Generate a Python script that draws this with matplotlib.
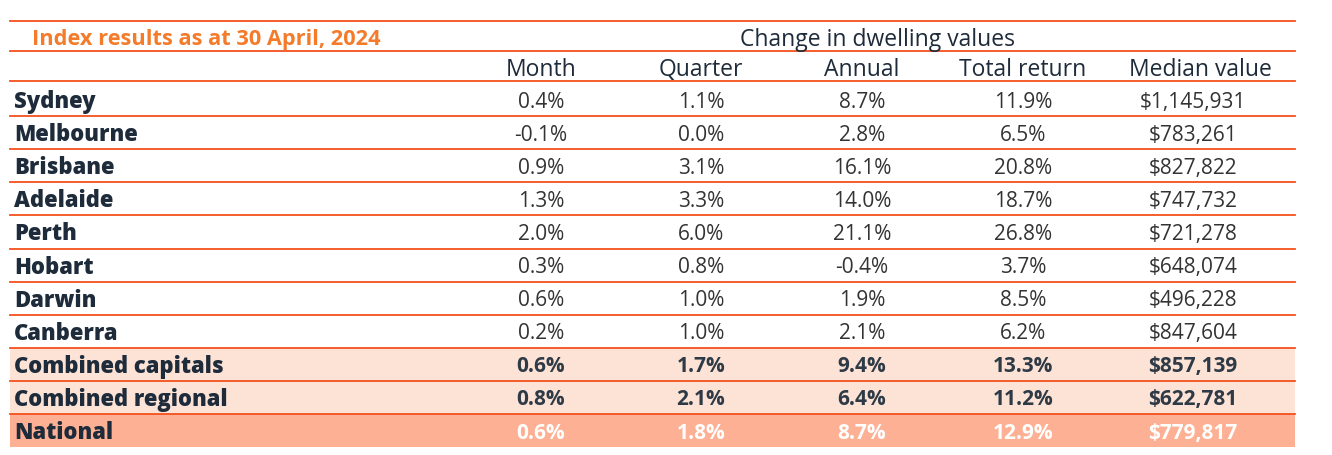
import matplotlib.pyplot as plt
from matplotlib.patches import Rectangle

# Table content
title = "Index results as at 30 April, 2024"
group_header = "Change in dwelling values"
columns = ["Month", "Quarter", "Annual", "Total return", "Median value"]
regions = ["Sydney", "Melbourne", "Brisbane", "Adelaide", "Perth", "Hobart",
           "Darwin", "Canberra", "Combined capitals", "Combined regional", "National"]
month = [0.4, -0.1, 0.9, 1.3, 2.0, 0.3, 0.6, 0.2, 0.6, 0.8, 0.6]
quarter = [1.1, 0.0, 3.1, 3.3, 6.0, 0.8, 1.0, 1.0, 1.7, 2.1, 1.8]
annual = [8.7, 2.8, 16.1, 14.0, 21.1, -0.4, 1.9, 2.1, 9.4, 6.4, 8.7]
total_return = [11.9, 6.5, 20.8, 18.7, 26.8, 3.7, 8.5, 6.2, 13.3, 11.2, 12.9]
median_value = [1145931, 783261, 827822, 747732, 721278, 648074, 496228,
                847604, 857139, 622781, 779817]

# Colours
LINE = '#F4511E'
NAVY = '#1E2B3A'
LIGHT_FILL = '#FCE3D6'
DARK_FILL = '#FDB093'

fig = plt.figure(figsize=(13.32, 4.56), dpi=100)
ax = fig.add_axes([0, 0, 1, 1])
ax.set_xlim(0, 1332)
ax.set_ylim(456, 0)
ax.axis('off')

left, right = 10, 1295
col_x = [541, 701, 862, 1023, 1193]
row_top = 84
row_h = 33.1

label_font = 'Open Sans'
num_font = 'Open Sans'

# header lines
for y in [22, 52, 82]:
    ax.plot([left, right], [y, y], color=LINE, lw=1.3)

ax.text(32, 40, title, color='#F47B2A', fontsize=15.7, fontweight='bold',
        family=label_font, va='center', ha='left')
ax.text(878, 40, group_header, color=NAVY, fontsize=16.5, family=label_font,
        va='center', ha='center')
for x, c in zip(col_x, columns):
    ax.text(x if c != "Median value" else 1200, 70, c, color=NAVY,
            fontsize=16.5, family=label_font, va='center', ha='center')

for i, name in enumerate(regions):
    top = row_top + i * row_h
    yc = top + row_h / 2 + 1.5
    special = i >= 8
    if special:
        fill = DARK_FILL if name == "National" else LIGHT_FILL
        ax.add_patch(Rectangle((left, top), right - left, row_h,
                               color=fill, lw=0, zorder=0))
    ax.text(14, yc, name, color=NAVY, fontsize=15.8, fontweight='heavy',
            family=label_font, va='center', ha='left')
    vals = [f"{month[i]:.1f}%", f"{quarter[i]:.1f}%", f"{annual[i]:.1f}%",
            f"{total_return[i]:.1f}%", f"${median_value[i]:,}"]
    if name == "National":
        vcol = 'white'
    elif special:
        vcol = '#2E3A46'
    else:
        vcol = '#333333'
    for x, v in zip(col_x, vals):
        ax.text(x, yc, v, color=vcol, fontsize=15, family=num_font,
                fontweight='bold' if special else 'normal',
                va='center', ha='center')
    if i < len(regions) - 1:
        ax.plot([left, right], [top + row_h, top + row_h], color=LINE,
                lw=1.3, zorder=2)

fig.savefig('out.png', dpi=100)
